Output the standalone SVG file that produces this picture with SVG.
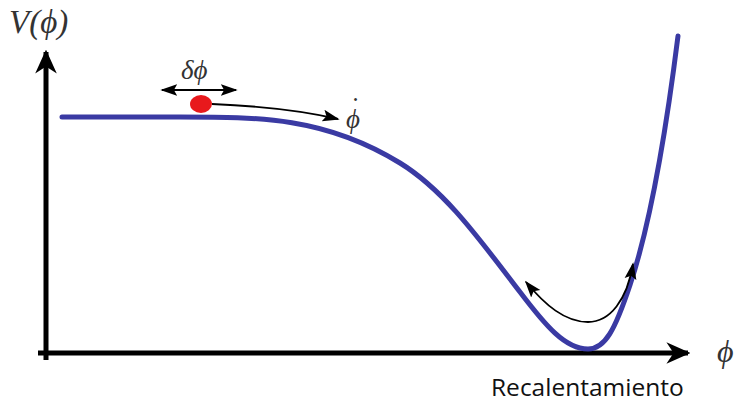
<svg xmlns="http://www.w3.org/2000/svg" width="741" height="404" viewBox="0 0 741 404">
<style>
.axis{stroke:#000;stroke-width:5;fill:none}
.curve{stroke:#3a3aa3;stroke-width:5;fill:none;stroke-linecap:round}
.arr{stroke:#000;stroke-width:1.8;fill:none}
.math{font-family:"Liberation Serif",serif;font-style:italic;fill:#333}
.lbl{font-family:"Open Sans","Noto Sans",sans-serif;fill:#111}
</style>
<defs>
<marker id="ah" viewBox="0 0 10 10" refX="9" refY="5" markerWidth="17" markerHeight="17" markerUnits="userSpaceOnUse" orient="auto-start-reverse">
<path d="M0,1.5 L10,5 L0,8.5 L2,5 Z" fill="#000"/>
</marker>
<marker id="ahL" viewBox="0 0 10 10" refX="9" refY="5" markerWidth="24" markerHeight="24" markerUnits="userSpaceOnUse" orient="auto">
<path d="M0,0.5 L10,5 L0,9.5 L3,5 Z" fill="#000"/>
</marker>
</defs>
<g id="axes">
<path class="axis" d="M46,360 L46,52" marker-end="url(#ahL)"/>
<path class="axis" d="M38,353 L688,353" marker-end="url(#ahL)"/>
</g>
<g id="potential">
<path class="curve" d="M62,117 L180,117 C260,117 325,117 400,163 C445,190.6 480,240 520,292 C545,325 565,349 588,349 C605,349 615,330 630,285 C650,225 665,140 678,36"/>
</g>
<g id="ball">
<ellipse cx="201" cy="104" rx="11" ry="9" fill="#e8191c"/>
</g>
<g id="connectors">
<path class="arr" d="M162,90 L236,90" marker-start="url(#ah)" marker-end="url(#ah)"/>
<path class="arr" d="M212,104 C260,106 300,110 338,119" marker-end="url(#ah)"/>
<path class="arr" d="M526,282 C545,305 565,322 588,322 C610,322 627,300 633,264" marker-start="url(#ah)" marker-end="url(#ah)"/>
</g>
<g id="labels">
<text class="math" x="9" y="33" font-size="33">V(ϕ)</text>
<text class="math" x="181" y="79" font-size="27">δϕ</text>
<text class="math" x="346" y="128" font-size="27">ϕ<tspan dx="-9" dy="-12" font-style="normal">˙</tspan></text>
<text class="math" x="717" y="362" font-size="32">ϕ</text>
<text class="lbl" x="491" y="396" font-size="24.5">Recalentamiento</text>
</g>
</svg>
